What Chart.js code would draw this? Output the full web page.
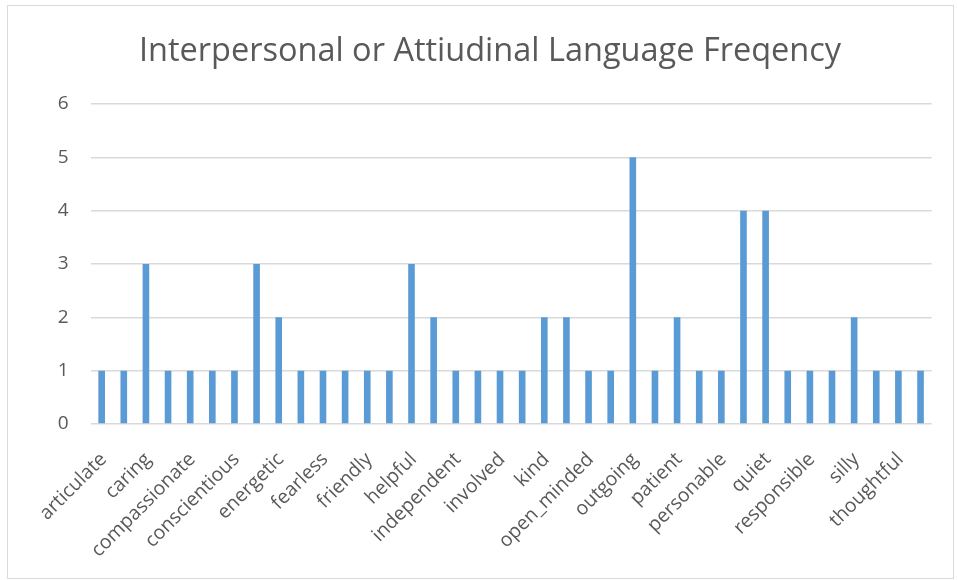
<!DOCTYPE html>
<html>
<head>
<meta charset="utf-8">
<script src="https://cdn.jsdelivr.net/npm/chart.js@4"></script>
<style>
  html, body { margin: 0; padding: 0; background: #fff; }
  #frame {
    position: absolute; left: 7px; top: 5px;
    width: 945px; height: 572px;
    border: 1px solid #d9d9d9;
  }
  #wordChart { display: block; }
</style>
</head>
<body>
<div id="frame"><canvas id="wordChart" width="945" height="572"></canvas></div>
<script>
// ── Datos: frecuencia de palabras interpersonales / actitudinales ─────────────
// Solo una de cada dos categorías lleva etiqueta en el eje
const palabras = [
  'articulate', '', 'caring', '', 'compassionate', '', 'conscientious', '',
  'energetic', '', 'fearless', '', 'friendly', '', 'helpful', '',
  'independent', '', 'involved', '', 'kind', '', 'open_minded', '',
  'outgoing', '', 'patient', '', 'personable', '', 'quiet', '',
  'responsible', '', 'silly', '', 'thoughtful', ''
];

const frecuencia = [
  1, 1, 3, 1, 1, 1, 1, 3,
  2, 1, 1, 1, 1, 1, 3, 2,
  1, 1, 1, 1, 2, 2, 1, 1,
  5, 1, 2, 1, 1, 4, 4, 1,
  1, 1, 2, 1, 1, 1
];

const yTicks = [0, 1, 2, 3, 4, 5, 6];

const AZUL  = '#5b9bd5';
const GRIS  = '#595959';
const GRID  = '#d9d9d9';
const FUENTE = "'Open Sans', sans-serif";

const ctx = document.getElementById('wordChart').getContext('2d');

const wordChart = new Chart(ctx, {
    type: 'bar',
    data: {
        labels: palabras,
        datasets: [{
            label: 'Frecuencia',
            data: frecuencia,
            backgroundColor: AZUL,
            borderWidth: 0,
            barPercentage: 0.3,
            categoryPercentage: 1.0,
        }]
    },
    options: {
        responsive: false,
        animation: false,
        // padding asimétrico: el título queda centrado algo a la derecha
        layout: { padding: { left: 40.4, right: 21.4, top: 0, bottom: 0 } },
        plugins: {
            legend: { display: false },
            tooltip: { enabled: false },
            title: {
                display: true,
                text: 'Interpersonal or Attiudinal Language Freqency',
                color: GRIS,
                font: { family: FUENTE, size: 32.5, weight: 'normal' },
                padding: { top: 26, bottom: 33 }
            }
        },
        scales: {
            x: {
                grid: { display: false, drawTicks: false },
                border: { display: false },
                // alto fijo y sin márgenes laterales extra por las etiquetas giradas
                afterFit: (axis) => {
                    axis.height = 154;
                    axis.paddingLeft = 0;
                    axis.paddingRight = 0;
                },
                ticks: {
                    autoSkip: false,
                    minRotation: 45,
                    maxRotation: 45,
                    padding: 24,
                    labelOffset: 2,
                    color: GRIS,
                    font: { family: FUENTE, size: 19.5 }
                }
            },
            y: {
                min: 0,
                max: 6,
                afterBuildTicks: (axis) => { axis.ticks = yTicks.map(v => ({ value: v })); },
                afterFit: (axis) => { axis.width = 42.2; },
                grid: { color: GRID, lineWidth: 1.5, drawTicks: false },
                border: { display: false },
                ticks: {
                    padding: 22,
                    color: GRIS,
                    font: { family: FUENTE, size: 19 }
                }
            }
        }
    }
});
</script>
</body>
</html>
